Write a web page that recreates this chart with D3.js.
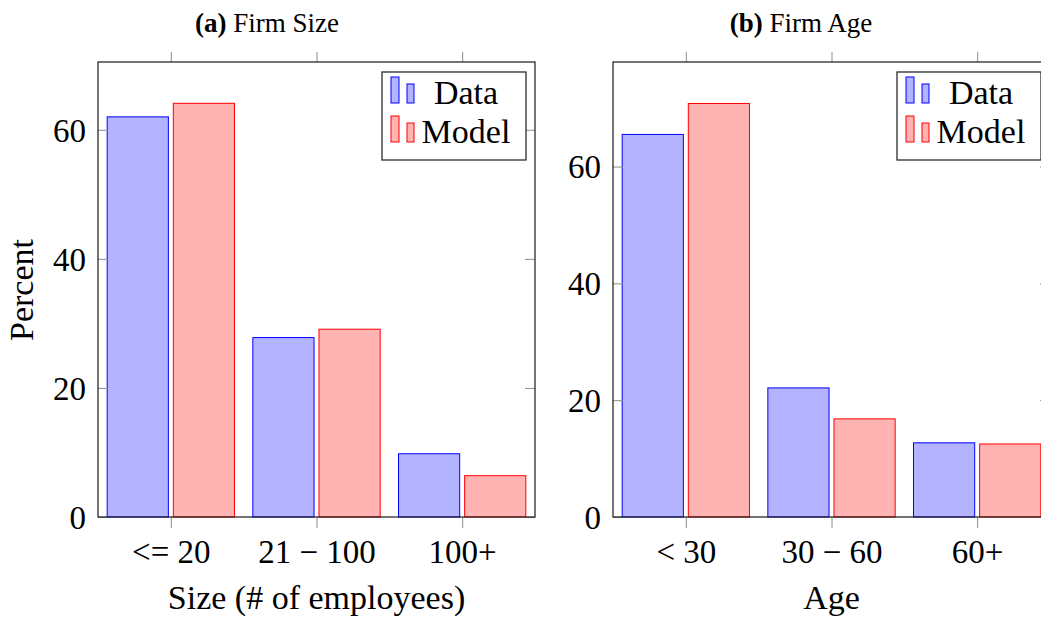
<!DOCTYPE html>
<html>
<head>
<meta charset="utf-8">
<script src="https://cdnjs.cloudflare.com/ajax/libs/d3/7.8.5/d3.min.js"></script>
<style>
  body { margin: 0; background: #fff; }
  svg { display: block; }
  text { font-family: "Liberation Serif", "DejaVu Serif", serif; fill: #000; }
</style>
</head>
<body>
<div id="root"></div>
<script>
// values
var sizeCats = ["<= 20", "21 \u2212 100", "100+"];
var sizeData = [62.0, 27.8, 9.8];
var sizeModel = [64.1, 29.1, 6.4];

var ageCats = ["< 30", "30 \u2212 60", "60+"];
var ageData = [65.5, 22.1, 12.7];
var ageModel = [70.8, 16.8, 12.5];

var yTicks = [0, 20, 40, 60];
var seriesNames = ["Data", "Model"];

var W = 1041, H = 619,
    plotTop = 62, plotBottom = 517;

var fills = ["#b3b3ff", "#ffb3b3"],
    strokes = ["#0000ff", "#ff0000"];

var svg = d3.select("#root")
    .append("svg")
    .attr("width", W)
    .attr("height", H);

function drawPanel(p) {
    var x = d3.scaleLinear()
        .domain([-0.5, 2.5])
        .range([p.left, p.right]);
    var y = d3.scaleLinear()
        .domain([0, p.ymax])
        .range([plotBottom, plotTop]);
    var step = x(1) - x(0),
        barW = step * 0.42,
        shift = step * 0.227;

    var g = svg.append("g");

    // bars
    var series = [p.data, p.model];
    series.forEach(function (vals, s) {
        g.selectAll(null)
            .data(vals)
            .enter()
            .append("rect")
            .attr("x", function (d, i) { return x(i) + (s === 0 ? -shift : shift) - barW / 2; })
            .attr("y", function (d) { return y(d); })
            .attr("width", barW)
            .attr("height", function (d) { return y(0) - y(d); })
            .style("fill", fills[s])
            .style("stroke", strokes[s])
            .style("stroke-width", 1);
    });

    // ticks (axes without domain line)
    var bot = g.append("g")
        .attr("transform", "translate(0," + plotBottom + ")")
        .call(d3.axisBottom(x).tickValues([0, 1, 2]).tickSize(11).tickPadding(12)
            .tickFormat(function (d) { return p.cats[d]; }));
    var topAx = g.append("g")
        .attr("transform", "translate(0," + plotTop + ")")
        .call(d3.axisTop(x).tickValues([0, 1, 2]).tickSize(10).tickFormat(""));
    var lft = g.append("g")
        .attr("transform", "translate(" + p.left + ",0)")
        .call(d3.axisLeft(y).tickValues(yTicks).tickSize(-10).tickPadding(12));
    var rgt = g.append("g")
        .attr("transform", "translate(" + p.right + ",0)")
        .call(d3.axisRight(y).tickValues(yTicks).tickSize(-10).tickFormat(""));

    [bot, topAx, lft, rgt].forEach(function (a) {
        a.select(".domain").remove();
        a.selectAll(".tick line").attr("stroke", "#8c8c8c");
        a.selectAll("text").attr("font-family", null).style("font-size", "33px").attr("fill", "#000");
    });
    bot.selectAll("text").attr("dy", null).attr("y", 46);
    lft.selectAll("text").attr("dy", "0.34em");

    // frame
    g.append("rect")
        .attr("x", p.left)
        .attr("y", plotTop)
        .attr("width", p.right - p.left)
        .attr("height", plotBottom - plotTop)
        .style("fill", "none")
        .style("stroke", "#1a1a1a")
        .style("stroke-width", 1.2);

    // legend
    var lw = 144, lh = 88,
        lx = p.right - 9 - lw, ly = plotTop + 10;
    var leg = g.append("g").attr("transform", "translate(" + lx + "," + ly + ")");
    leg.append("rect")
        .attr("width", lw)
        .attr("height", lh)
        .style("fill", "#fff")
        .style("stroke", "#1a1a1a")
        .style("stroke-width", 1.2);
    seriesNames.forEach(function (name, s) {
        var row = leg.append("g").attr("transform", "translate(0," + (s * 39) + ")");
        row.append("rect")
            .attr("x", 9).attr("y", 5).attr("width", 8).attr("height", 26)
            .style("fill", fills[s]).style("stroke", strokes[s]);
        row.append("rect")
            .attr("x", 25).attr("y", 12).attr("width", 7).attr("height", 19)
            .style("fill", fills[s]).style("stroke", strokes[s]);
        row.append("text")
            .attr("x", 84)
            .attr("y", 32)
            .attr("text-anchor", "middle")
            .style("font-size", "34px")
            .text(name);
    });

    // x label
    g.append("text")
        .attr("x", (p.left + p.right) / 2)
        .attr("y", 609)
        .attr("text-anchor", "middle")
        .style("font-size", "34px")
        .text(p.xlabel);

    // title
    var t = g.append("text")
        .attr("x", p.titleX)
        .attr("y", 32)
        .attr("text-anchor", "middle")
        .style("font-size", "27px");
    t.append("tspan").style("font-weight", "bold").text(p.tag);
    t.append("tspan").text(" " + p.title);
}

drawPanel({
    left: 98, right: 535, ymax: 70.5,
    cats: sizeCats, data: sizeData, model: sizeModel,
    xlabel: "Size (# of employees)",
    tag: "(a)", title: "Firm Size", titleX: 267
});

drawPanel({
    left: 613, right: 1050, ymax: 77.9,
    cats: ageCats, data: ageData, model: ageModel,
    xlabel: "Age",
    tag: "(b)", title: "Firm Age", titleX: 801
});

// y label (shared, left panel)
svg.append("text")
    .attr("transform", "translate(33,290) rotate(-90)")
    .attr("text-anchor", "middle")
    .style("font-size", "34px")
    .text("Percent");
</script>
</body>
</html>
